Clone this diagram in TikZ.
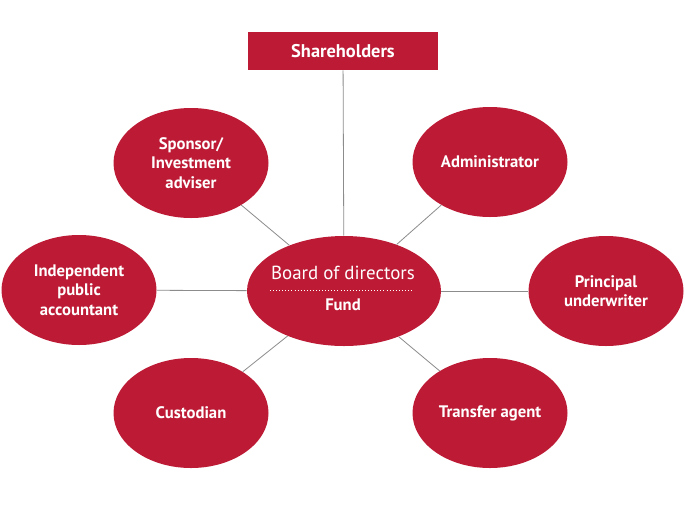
\documentclass[tikz,border=0pt]{standalone}
\usepackage{fontspec}
\setmainfont{PT Sans}
\usetikzlibrary{shapes.geometric}
\definecolor{crim}{RGB}{189,27,53}
\definecolor{linegray}{RGB}{140,140,140}
\begin{document}
\begin{tikzpicture}[x=0.75pt,y=-0.75pt,
  oval/.style={ellipse,fill=crim,minimum width=155*0.75pt,minimum height=110*0.75pt,inner sep=0pt,
    text=white,font=\bfseries\fontsize{12.5}{14.6}\selectfont,align=center},
  conn/.style={draw=linegray,line width=0.6pt}]
\useasboundingbox (0,0) rectangle (685,504);
\fill[white] (0,0) rectangle (685,504);
\node[fill=crim,minimum width=190*0.75pt,minimum height=38*0.75pt,inner sep=0pt,text=white,
  font=\bfseries\fontsize{13.8}{15}\selectfont] (sh) at (343,51) {Shareholders};
\node[ellipse,fill=crim,minimum width=194*0.75pt,minimum height=110*0.75pt,inner sep=0pt] (bd) at (344,291) {};
\node[oval] (sp) at (191,163) {Sponsor/\\Investment\\adviser};
\node[oval] (ad) at (490,162) {Administrator};
\node[oval] (ip) at (79,290) {Independent\\public\\accountant};
\node[oval] (pu) at (606,291) {Principal\\underwriter};
\node[oval] (cu) at (191,413) {Custodian};
\node[oval] (ta) at (490,413) {Transfer agent};
\node[text=white,font=\fontsize{14.2}{16}\selectfont,inner sep=0pt] (bdt) at (343,273) {Board of directors};
\node[text=white,font=\bfseries\fontsize{12.5}{14}\selectfont,inner sep=0pt] (fund) at (343,305) {Fund};
\draw[white,line width=0.3pt,dotted] (270,290) -- (414,290);
\draw[conn] (sh) -- (bd);
\draw[conn] (sp) -- (bd);
\draw[conn] (ad) -- (bd);
\draw[conn] (ip) -- (bd);
\draw[conn] (pu) -- (bd);
\draw[conn] (cu) -- (bd);
\draw[conn] (ta) -- (bd);
\end{tikzpicture}
\end{document}
